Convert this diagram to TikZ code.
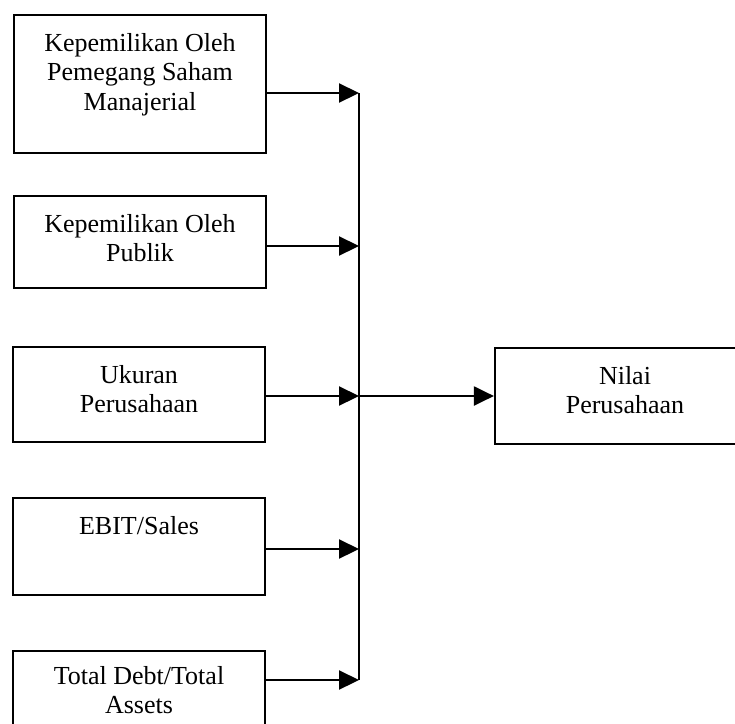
\documentclass[tikz,border=0pt]{standalone}
\usepackage{fontspec}
\setmainfont{Liberation Serif}
\usetikzlibrary{arrows.meta}
\begin{document}
\begin{tikzpicture}[x=1pt,y=-1pt,
  box/.style={draw,line width=2.2pt,rectangle,inner sep=0pt},
  lbl/.style={anchor=north,inner sep=0pt,align=center,font=\fontsize{26}{29.5}\selectfont},
  conn/.style={line width=2.2pt},
  arr/.style={line width=2.2pt,-{Triangle[length=20pt,width=19pt]}}]
\useasboundingbox (0,0) rectangle (735,723);
\clip (0,0) rectangle (735,723);
% boxes
\node[box,minimum width=252pt,minimum height=138pt] (b1) at (140,84) {};
\node[box,minimum width=252pt,minimum height=92pt] (b2) at (140,242) {};
\node[box,minimum width=252pt,minimum height=95pt] (b3) at (139,394.5) {};
\node[box,minimum width=252pt,minimum height=97pt] (b4) at (139,546.5) {};
\node[box,minimum width=252pt,minimum height=100pt] (b5) at (139,701) {};
\node[box,minimum width=260pt,minimum height=96pt] (nv) at (625,396) {};
% texts
\node[lbl] (t1) at ([yshift=-19pt]b1.north) {Kepemilikan Oleh\\Pemegang Saham\\Manajerial};
\node[lbl] (t2) at ([yshift=-19pt]b2.north) {Kepemilikan Oleh\\Publik};
\node[lbl] (t3) at ([yshift=-19pt]b3.north) {Ukuran\\Perusahaan};
\node[lbl] (t4) at ([yshift=-19pt]b4.north) {EBIT/Sales};
\node[lbl] (t5) at ([yshift=-16pt]b5.north) {Total Debt/Total\\Assets};
\node[lbl] (t6) at ([yshift=-19pt]nv.north) {Nilai\\Perusahaan};
% junctions
\coordinate (j1) at (359,93);
\coordinate (j2) at (359,246);
\coordinate (j3) at (359,396);
\coordinate (j4) at (359,549);
\coordinate (j5) at (359,680);
\draw[conn] (j1) -- (j5);
\draw[arr] (b1.east |- j1) -- (j1);
\draw[arr] (b2.east |- j2) -- (j2);
\draw[arr] (b3.east |- j3) -- (j3);
\draw[arr] (b4.east |- j4) -- (j4);
\draw[arr] (b5.east |- j5) -- (j5);
\draw[arr] (j3) -- (nv.west |- j3);
\end{tikzpicture}
\end{document}
